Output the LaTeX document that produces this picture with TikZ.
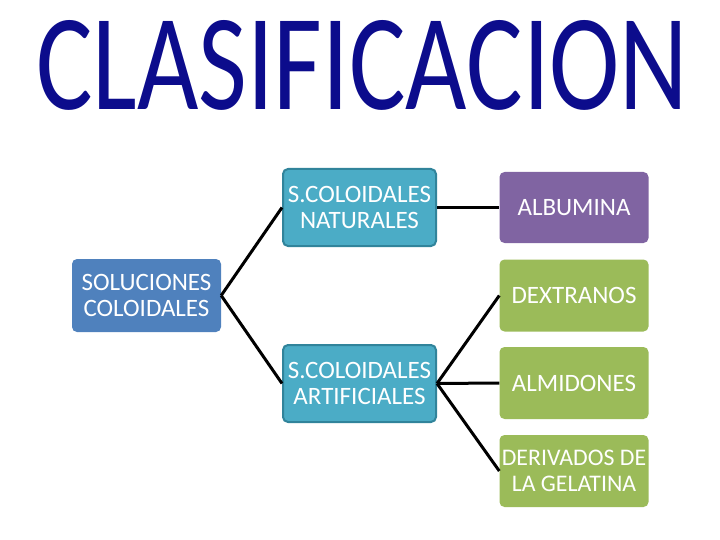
\documentclass[tikz,border=0pt]{standalone}
\usepackage{fontspec}
\setmainfont{Carlito}
\usepackage{graphicx}
\usetikzlibrary{positioning}
\definecolor{Navy}{RGB}{12,12,140}
\definecolor{MainBlue}{HTML}{4F81BD}
\definecolor{Teal}{HTML}{4BACC6}
\definecolor{DarkTeal}{HTML}{31849B}
\definecolor{Purple}{HTML}{8064A2}
\definecolor{Green}{HTML}{9BBB59}
\tikzset{
  box/.style={rounded corners=5pt,align=center,text=white,inner sep=0pt,
              minimum width=149pt,minimum height=72pt,
              font=\fontsize{25}{26}\selectfont},
  rootbox/.style={box,fill=MainBlue,minimum height=73pt},
  tealbox/.style={box,fill=Teal,draw=DarkTeal,line width=2pt,
              minimum width=153pt,minimum height=77pt},
  purplebox/.style={box,fill=Purple,minimum height=71pt},
  greenbox/.style={box,fill=Green},
  link/.style={line width=3pt,draw=black}
}
\begin{document}
\begin{tikzpicture}[x=1pt,y=-1pt]
  \useasboundingbox (0,0) rectangle (720,540);
  \node[anchor=south west,inner sep=0pt,text=Navy] (title) at (36,111)
    {\resizebox{652pt}{89pt}{CLASIFICACION}};

  \node[rootbox] (sol) at (146.5,295.5) {SOLUCIONES\\COLOIDALES};
  \node[tealbox] (nat) at (359.5,207.5) {S.COLOIDALES\\NATURALES};
  \node[tealbox] (art) at (359.5,383.5) {S.COLOIDALES\\ARTIFICIALES};

  \node[purplebox] (alb) at (574,207.5) {ALBUMINA};
  \node[greenbox] (dex) at (574,295.5) {DEXTRANOS};
  \node[greenbox] (alm) at (574,383) {ALMIDONES};
  \node[greenbox,font=\fontsize{23.8}{26}\selectfont] (der) at (574,471)
    {DERIVADOS DE\\LA GELATINA};

  \draw[link] (sol.east) -- (nat.west);
  \draw[link] (sol.east) -- (art.west);
  \draw[link] (nat.east) -- (alb.west);
  \draw[link] (art.east) -- (dex.west);
  \draw[link] (art.east) -- (alm.west);
  \draw[link] (art.east) -- (der.west);
\end{tikzpicture}
\end{document}
